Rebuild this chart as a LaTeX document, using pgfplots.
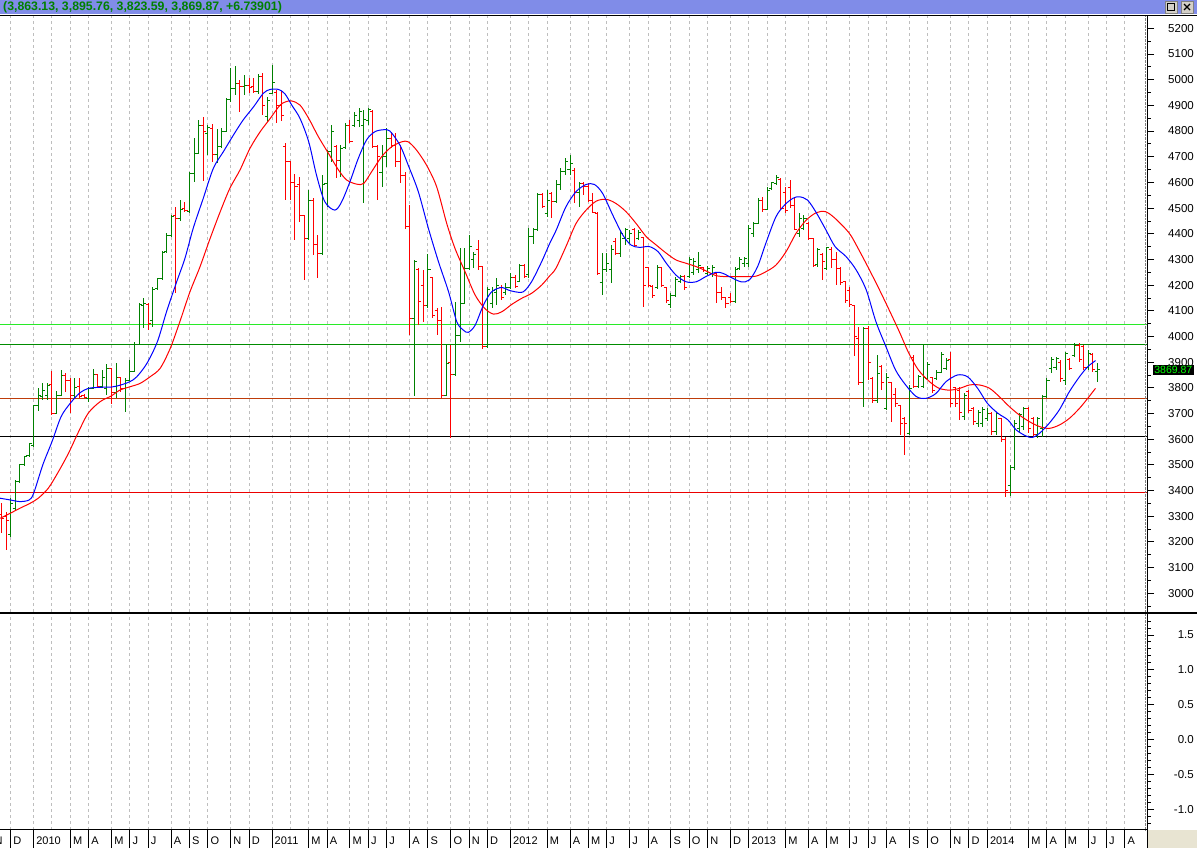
\documentclass[border=0pt]{standalone}
\usepackage{pgfplots}
\pgfplotsset{compat=1.18}
\usepackage{pgfplotstable}
\usepackage{fontspec}
\setmainfont{Liberation Sans}
\definecolor{barg}{RGB}{0,128,0}
\definecolor{barr}{RGB}{255,0,0}
\definecolor{mablue}{RGB}{0,0,255}
\definecolor{mared}{RGB}{255,0,0}
\definecolor{hlight}{RGB}{40,235,40}
\definecolor{hdark}{RGB}{0,140,0}
\definecolor{hbrown}{RGB}{190,60,10}
\definecolor{hred}{RGB}{235,0,0}
\definecolor{titlebg}{RGB}{128,140,232}
\definecolor{titletext}{RGB}{0,128,0}
\definecolor{gridgray}{RGB}{190,190,190}
\definecolor{corner}{RGB}{232,228,210}
\definecolor{lvgreen}{RGB}{0,255,0}
\definecolor{btn}{RGB}{212,208,200}

\pgfdeclareplotmark{otick}{\pgfpathmoveto{\pgfqpoint{-2.6pt}{0pt}}\pgfpathlineto{\pgfqpoint{0pt}{0pt}}\pgfusepathqstroke}
\pgfdeclareplotmark{ctick}{\pgfpathmoveto{\pgfqpoint{0pt}{0pt}}\pgfpathlineto{\pgfqpoint{2.6pt}{0pt}}\pgfusepathqstroke}

\pgfplotstableread{
k O H L C
0 3227 3370 3220 3350
1 3331 3441 3324 3435
2 3435 3502 3428 3500
3 3500 3535 3497 3532
4 3538 3586 3532 3584
5 3577 3733 3571 3731
6 3731 3798 3710 3772
7 3765 3817 3753 3790
8 3772 3817 3753 3810
10 3701 3788 3697 3772
11 3772 3869 3769 3847
14 3772 3840 3759 3800
17 3759 3805 3746 3798
18 3798 3873 3795 3850
20 3805 3869 3798 3840
21 3798 3891 3772 3876
23 3782 3895 3759 3840
25 3798 3840 3707 3830
26 3830 3908 3827 3865
27 3865 3977 3863 3969
28 3969 4129 3966 4125
29 4120 4151 4034 4130
31 4064 4194 4038 4181
32 4187 4229 4181 4224
33 4224 4333 4220 4328
34 4330 4402 4328 4395
35 4395 4473 4389 4466
37 4460 4531 4450 4496
39 4486 4642 4484 4635
40 4635 4771 4603 4713
41 4713 4843 4709 4823
43 4790 4823 4707 4815
45 4707 4808 4674 4739
46 4739 4810 4735 4800
47 4800 4927 4795 4921
48 4921 5045 4914 4966
49 4966 5053 4940 4986
51 4973 5018 4940 4977
54 4953 5023 4945 5012
56 4856 4934 4836 4920
57 4947 5057 4945 4990
65 4382 4570 4376 4531
68 4324 4629 4317 4590
69 4596 4726 4505 4719
70 4720 4823 4680 4800
72 4687 4745 4622 4732
73 4735 4830 4732 4823
75 4823 4875 4817 4862
76 4840 4888 4817 4875
77 4823 4882 4518 4843
78 4840 4888 4823 4882
81 4640 4745 4583 4700
82 4700 4810 4661 4771
88 4070 4297 3770 4290
91 4120 4323 4110 4259
95 3772 3966 3770 3895
97 3850 4135 3848 4005
98 4005 4343 3979 4129
99 4129 4343 4127 4265
100 4265 4395 4259 4349
101 4300 4330 4265 4320
104 3960 4194 3958 4181
105 4130 4194 4109 4180
106 4170 4226 4122 4200
108 4170 4207 4161 4190
109 4190 4246 4187 4230
111 4215 4284 4213 4275
113 4240 4421 4226 4388
114 4388 4421 4362 4415
115 4415 4557 4413 4551
117 4480 4570 4466 4530
119 4525 4609 4518 4590
120 4590 4655 4570 4642
121 4642 4694 4629 4680
122 4650 4707 4629 4675
124 4560 4603 4505 4596
129 4210 4324 4161 4260
130 4260 4324 4252 4285
131 4260 4356 4207 4340
133 4324 4415 4311 4400
134 4380 4421 4356 4415
135 4380 4415 4363 4400
137 4380 4415 4376 4405
141 4190 4278 4187 4270
144 4125 4168 4110 4160
145 4160 4233 4155 4220
146 4215 4239 4207 4235
148 4235 4311 4226 4300
149 4250 4304 4239 4290
150 4260 4330 4246 4275
152 4245 4274 4239 4265
153 4245 4278 4233 4270
158 4135 4272 4133 4260
159 4265 4311 4259 4300
160 4285 4311 4272 4305
161 4285 4434 4272 4420
162 4400 4447 4389 4440
163 4440 4538 4438 4530
165 4495 4583 4492 4570
166 4575 4603 4570 4598
167 4595 4629 4590 4620
172 4400 4479 4389 4460
173 4420 4474 4415 4460
176 4280 4343 4272 4340
178 4265 4350 4259 4345
186 3820 4038 3727 4030
189 3750 3928 3740 3856
191 3720 3856 3714 3840
196 3623 3811 3616 3798
198 3805 3850 3798 3845
199 3805 3967 3798 3840
200 3835 3902 3830 3890
202 3835 3869 3830 3860
203 3860 3941 3856 3930
204 3875 3915 3869 3905
208 3690 3778 3675 3770
211 3660 3714 3649 3705
212 3660 3727 3649 3715
213 3680 3720 3670 3700
215 3630 3707 3616 3700
218 3420 3499 3380 3490
219 3490 3675 3480 3660
220 3640 3701 3623 3695
221 3650 3727 3636 3720
224 3620 3688 3603 3680
225 3640 3772 3610 3765
226 3765 3837 3759 3830
227 3875 3921 3856 3910
228 3880 3921 3869 3915
230 3830 3941 3811 3935
232 3925 3973 3921 3965
235 3880 3947 3869 3935
237 3863.13 3895.76 3823.59 3869.87
}\greenbars

\pgfplotstableread{
k O H L C
-2 3305 3350 3233 3292
-1 3300 3318 3168 3285
9 3811 3865 3694 3701
12 3847 3856 3785 3830
13 3830 3840 3701 3772
15 3805 3840 3759 3766
16 3770 3775 3759 3762
19 3850 3853 3798 3805
22 3876 3878 3736 3782
24 3840 3843 3782 3798
30 4125 4129 4025 4050
36 4470 4505 4168 4458
38 4500 4525 4486 4490
42 4823 4856 4605 4800
44 4808 4826 4678 4707
50 4986 5000 4875 4973
52 4977 5008 4949 4970
53 4975 5006 4947 4953
55 5012 5025 4862 4901
58 4950 4960 4833 4900
59 4900 4955 4840 4860
60 4740 4755 4531 4680
61 4680 4685 4531 4600
62 4600 4634 4376 4583
63 4590 4620 4447 4470
64 4470 4472 4220 4382
66 4531 4538 4317 4360
67 4360 4395 4226 4324
71 4740 4745 4616 4687
74 4823 4843 4752 4758
79 4875 4882 4732 4739
80 4740 4745 4531 4700
83 4771 4797 4732 4745
84 4745 4791 4661 4680
85 4680 4745 4596 4628
86 4628 4640 4420 4430
87 4430 4512 4005 4070
89 4260 4265 4044 4135
90 4200 4259 4057 4120
92 4230 4233 4070 4080
93 4100 4109 4005 4064
94 4064 4116 3759 3772
96 3900 3966 3605 3850
102 4340 4375 4259 4272
103 4272 4274 3953 3960
107 4190 4200 4142 4150
110 4230 4239 4187 4195
112 4275 4284 4226 4235
116 4551 4557 4499 4505
118 4557 4564 4460 4525
123 4648 4655 4518 4560
125 4596 4603 4551 4583
126 4583 4596 4525 4531
127 4531 4557 4479 4482
128 4480 4486 4240 4246
132 4370 4382 4317 4324
136 4415 4421 4350 4356
138 4385 4389 4116 4200
139 4270 4272 4194 4200
140 4195 4200 4148 4160
142 4270 4272 4194 4200
143 4190 4194 4129 4140
147 4235 4239 4181 4190
151 4270 4272 4252 4255
154 4245 4246 4129 4170
155 4170 4194 4142 4150
156 4150 4155 4110 4130
157 4150 4168 4129 4135
164 4530 4544 4486 4495
168 4610 4616 4492 4500
169 4560 4583 4479 4490
170 4580 4609 4499 4510
171 4510 4538 4415 4418
174 4440 4447 4376 4380
175 4380 4382 4272 4275
177 4320 4324 4220 4290
179 4340 4350 4265 4300
180 4300 4330 4200 4265
181 4265 4272 4200 4210
182 4213 4215 4129 4140
183 4180 4194 4116 4125
184 4120 4123 3922 4000
185 3993 4038 3811 3820
187 4030 4040 3830 3900
188 3835 3843 3740 3750
190 3882 3889 3791 3820
192 3820 3824 3668 3760
193 3775 3798 3727 3740
194 3730 3733 3616 3660
195 3680 3688 3538 3662
197 3920 3928 3798 3805
201 3840 3843 3778 3790
205 3910 3941 3727 3740
206 3800 3805 3727 3740
207 3790 3805 3675 3705
209 3785 3791 3701 3710
210 3720 3727 3655 3670
214 3700 3707 3616 3630
216 3680 3681 3590 3600
217 3600 3610 3375 3400
222 3720 3727 3623 3640
223 3680 3688 3610 3620
229 3900 3908 3824 3835
231 3910 3915 3869 3875
233 3965 3973 3902 3910
234 3960 3967 3869 3880
236 3930 3934 3863 3870
}\redbars

\pgfplotsset{
  panel/.style={scale only axis, width=1147pt, xmin=-2.334, xmax=247.83,
    axis line style={draw=none}, clip mode=individual,
    xtick={0,5,9,13,17,22,26,30,35,39,43,48,52,57,61,65,69,74,78,82,87,91,96,100,104,109,113,117,122,126,130,135,139,144,148,152,157,161,165,169,174,178,183,187,191,196,200,205,209,213,218,222,226,230,235,239,243},
    xticklabels={}, xtick style={draw=none},
    xmajorgrids, major grid style={gridgray, line width=1pt, dash pattern=on 3pt off 3pt},
    ytick pos=right, yticklabel pos=right, tick align=outside,
    major tick length=7pt, minor tick length=3.5pt,
    ytick style={black, line width=0.8pt},
    yticklabel style={anchor=east, inner sep=0pt, xshift=40pt, font=\fontsize{11.5}{13}\selectfont},
    /pgf/number format/assume math mode=true},
}

\begin{document}
\begin{tikzpicture}
\path[use as bounding box] (0pt,0pt) rectangle (1197pt,848pt);
\fill[white] (0pt,0pt) rectangle (1197pt,848pt);

\begin{axis}[panel, at={(0pt,236pt)}, anchor=south west, height=596pt,
  ymin=2927, ymax=5248,
  ytick={3000,3100,...,5200}, minor ytick={2950,3050,...,5150},
  /pgf/number format/1000 sep={}]
\addplot[hlight, line width=1pt] coordinates {(-3,4044.7) (249,4044.7)};
\addplot[hdark, line width=1pt] coordinates {(-3,3970.5) (249,3970.5)};
\addplot[hbrown, line width=1pt] coordinates {(-3,3759) (249,3759)};
\addplot[black, line width=1pt] coordinates {(-3,3608.5) (249,3608.5)};
\addplot[hred, line width=1pt] coordinates {(-3,3390.5) (249,3390.5)};

\addplot[only marks, mark=otick, color=barg, line width=1pt, mark options={line width=1pt, solid},
  error bars/.cd, y dir=both, y explicit, error mark=none,
  error bar style={line width=1pt, color=barg, solid}]
  table[x=k, y=O, y error plus expr=\thisrow{H}-\thisrow{O}, y error minus expr=\thisrow{O}-\thisrow{L}] {\greenbars};
\addplot[only marks, mark=ctick, color=barg, line width=1pt, mark options={line width=1pt, solid}]
  table[x=k, y=C] {\greenbars};
\addplot[only marks, mark=otick, color=barr, line width=1pt, mark options={line width=1pt, solid},
  error bars/.cd, y dir=both, y explicit, error mark=none,
  error bar style={line width=1pt, color=barr, solid}]
  table[x=k, y=O, y error plus expr=\thisrow{H}-\thisrow{O}, y error minus expr=\thisrow{O}-\thisrow{L}] {\redbars};
\addplot[only marks, mark=ctick, color=barr, line width=1pt, mark options={line width=1pt, solid}]
  table[x=k, y=C] {\redbars};

\addplot[mared, line width=1pt, smooth, tension=0.5] coordinates {
(-2.3,3292) (-0.15,3311) (2,3331) (4.2,3350) (6,3370) (8.2,3409) (10.4,3473) (12.6,3545) (14.8,3629) (16.9,3701) (19.5,3746) (22,3769) (23.8,3791) (26,3804) (28.2,3817) (30.4,3843) (32.6,3876) (34.8,3954) (36.9,4058) (39.1,4174) (41.3,4272) (43.5,4382) (45.7,4486) (47.8,4577) (50,4648) (52.2,4733) (54.4,4797) (56.6,4849) (58.7,4900) (60,4914) (61.3,4917) (63.1,4901) (65,4849) (67.1,4778) (69.3,4713) (71.5,4648) (73.3,4609) (75.5,4593) (77,4596) (78.7,4641) (80.9,4700) (83.1,4739) (85.3,4758) (86.7,4758) (88.5,4726) (90.7,4667) (92.9,4583) (95.1,4440) (96.9,4343) (99.1,4252) (101.3,4161) (103.4,4109) (105.3,4087) (107.1,4096) (109.3,4125) (111.4,4148) (113.6,4168) (115.8,4200) (117.5,4235) (118.9,4265) (121.1,4350) (123.3,4440) (125.5,4492) (127.7,4527) (129.9,4534) (132,4518) (134.2,4486) (136.4,4440) (138.6,4389) (140.8,4356) (143,4324) (145.1,4298) (147.3,4285) (149.5,4272) (151.6,4256) (153.8,4237) (156,4233) (158.2,4233) (160.4,4233) (162.6,4235) (164.7,4252) (166.9,4278) (169.1,4330) (171.3,4402) (173.5,4453) (175.7,4482) (177.7,4486) (179.8,4460) (182.9,4402) (185,4337) (187.3,4259) (189.5,4181) (191.6,4103) (193.8,4019) (195.9,3934) (198,3869) (200.4,3824) (202.5,3798) (204.8,3791) (207,3798) (209.1,3811) (211.3,3811) (213.5,3798) (215.6,3766) (217.8,3727) (220,3694) (222.2,3668) (224.4,3649) (226.5,3642) (228.7,3655) (230.9,3681) (233.1,3720) (234.9,3759) (236.6,3798)
};
\addplot[mablue, line width=1pt, smooth, tension=0.5] coordinates {
(-2.3,3370) (0,3363) (2,3357) (4,3363) (5,3389) (7,3500) (9,3590) (11,3688) (13,3740) (15,3779) (17,3798) (19.5,3802) (22,3803) (24,3811) (26,3824) (27.5,3843) (29.7,3895) (32,3980) (34,4097) (36.2,4213) (38,4304) (39.8,4421) (42,4538) (44.2,4655) (46.4,4720) (48.6,4785) (50.7,4843) (53,4895) (55.1,4947) (56.6,4962) (58.4,4962) (59.8,4945) (61.3,4901) (63.1,4849) (65,4758) (66.7,4628) (68.5,4525) (70.7,4492) (72.2,4525) (74,4603) (75.8,4693) (77.6,4765) (79.4,4797) (81.3,4805) (82.7,4800) (84.9,4745) (86.7,4667) (88.9,4564) (91.1,4421) (93.3,4291) (95.5,4174) (97.3,4057) (98.7,4025) (99.8,4016) (101.3,4044) (103.1,4122) (104.9,4174) (107.1,4191) (108.5,4181) (110,4174) (111.8,4174) (113.6,4213) (115.8,4291) (117.5,4360) (119,4415) (121.1,4505) (123.3,4564) (125.5,4592) (127.3,4592) (129.1,4557) (131.3,4473) (133.5,4395) (135.3,4356) (137.1,4347) (139.3,4350) (141.2,4330) (143,4285) (145.1,4239) (147.3,4213) (149.5,4213) (151.6,4233) (153.8,4250) (155.3,4246) (157.1,4230) (159.3,4213) (161.1,4220) (162.9,4272) (164.7,4363) (166.9,4466) (168.8,4512) (170.6,4538) (172,4544) (173.8,4531) (175.7,4482) (177.8,4415) (179.8,4350) (182.2,4311) (184.4,4259) (186.6,4181) (188.7,4058) (190.9,3960) (193,3869) (195.2,3811) (197.5,3766) (199.6,3759) (201.8,3778) (204,3824) (206.5,3850) (208.7,3843) (210.9,3798) (213,3740) (215.3,3701) (217.5,3675) (219.3,3636) (221.5,3612) (222.9,3607) (224.4,3623) (226.5,3662) (228.7,3714) (230.9,3785) (233.1,3843) (234.9,3882) (236.6,3906)
};
\coordinate (lv) at (axis cs:247.83,3869.87);
\end{axis}

\begin{axis}[panel, at={(0pt,18pt)}, anchor=south west, height=216pt,
  ymin=-1.30, ymax=1.80,
  ytick={-1,-0.5,0,0.5,1,1.5}, minor ytick={-1.2,-1.1,...,1.7},
  yticklabel={\pgfmathprintnumber[fixed,fixed zerofill,precision=1]{\tick}}]
\end{axis}

\begin{axis}[at={(0pt,0pt)}, anchor=south west, scale only axis, width=1147pt, height=18pt,
  xmin=-2.334, xmax=247.83, ymin=0, ymax=1, axis line style={draw=none},
  ytick=\empty, xtick style={draw=none}, major tick length=0pt,
  xtick={0,5,13,17,22,26,30,35,39,43,48,52,57,65,69,74,78,82,87,91,96,100,104,109,117,122,126,130,135,139,144,148,152,157,161,169,174,178,183,187,191,196,200,205,209,213,222,226,230,235,239,243},
  xticklabels={D,2010,M,A,M,J,J,A,S,O,N,D,2011,M,A,M,J,J,A,S,O,N,D,2012,M,A,M,J,J,A,S,O,N,D,2013,M,A,M,J,J,A,S,O,N,D,2014,M,A,M,J,J,A},
  xmajorgrids, major grid style={black, line width=1pt, solid},
  xticklabel style={anchor=south west, inner sep=0pt, xshift=2.5pt, yshift=3.5pt, font=\fontsize{11}{13}\selectfont}]
\end{axis}
\node[anchor=south west, inner sep=0pt, font=\fontsize{11}{13}\selectfont] at (-5.5pt,3.5pt) {N};

% frame
\fill[titlebg] (0pt,833.5pt) rectangle (1197pt,848pt);
\node[anchor=west, inner sep=0pt, text=titletext, font=\bfseries\fontsize{12.3}{14}\selectfont] at (3pt,841pt) {(3,863.13, 3,895.76, 3,823.59, 3,869.87, +6.73901)};
\filldraw[fill=btn, draw=gray] (1165pt,835pt) rectangle (1177pt,847pt);
\draw[black, line width=0.8pt] (1167.5pt,837.5pt) rectangle (1174.5pt,844.5pt);
\filldraw[fill=btn, draw=gray] (1181pt,835pt) rectangle (1193pt,847pt);
\draw[black, line width=1.2pt] (1184pt,838pt) -- (1190pt,844pt) (1184pt,844pt) -- (1190pt,838pt);
\draw[black, line width=1pt] (0pt,832pt) -- (1197pt,832pt);
\draw[gray, densely dotted] (1145pt,18pt) -- (1145pt,832pt);
\draw[black, line width=1pt] (1147.5pt,0pt) -- (1147.5pt,832pt);
\draw[black, line width=1.6pt] (0pt,235pt) -- (1197pt,235pt);
\draw[black, line width=1pt] (0pt,18pt) -- (1147.5pt,18pt);
\fill[corner] (1148pt,0pt) rectangle (1197pt,17.5pt);
\node[fill=black, text=lvgreen, inner sep=1.5pt, anchor=east, font=\fontsize{10.5}{12}\selectfont] at ([xshift=47pt]lv) {3869.87};
\end{tikzpicture}
\end{document}
